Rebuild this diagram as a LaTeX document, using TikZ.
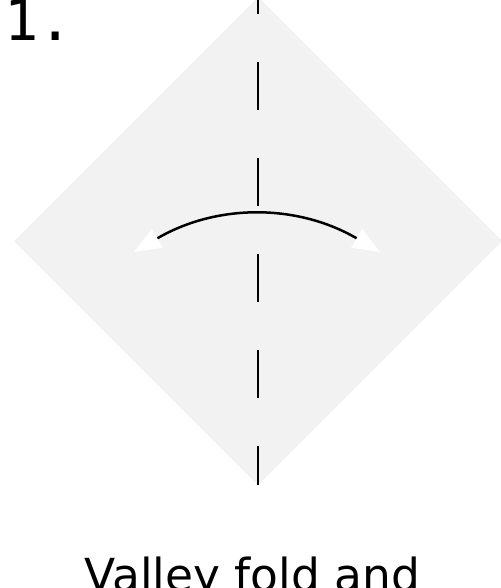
\documentclass[tikz,border=0pt]{standalone}
\usepackage{fontspec}
\setmainfont{DejaVu Sans}
\newfontfamily\monofont{DejaVu Sans Mono}
\usetikzlibrary{arrows.meta}
\tikzset{
  paper/.style={fill=black!5, draw=none},
  crease/.style={line width=2pt, dash pattern=on 48pt off 48pt, dash phase=31pt},
  flip/.style={line width=2.5pt, arrows={Triangle[length=27pt,width=21pt,color=white,fill=white]-Triangle[length=27pt,width=21pt,color=white,fill=white]}},
}
\begin{document}
\begin{tikzpicture}[x=1pt,y=-1pt]
\useasboundingbox (0,0) rectangle (500,588);
\coordinate (T) at (258,-3);
\coordinate (R) at (502,241);
\coordinate (B) at (258,485);
\coordinate (L) at (14,241);
\fill[paper] (T) -- (R) -- (B) -- (L) -- cycle;
\draw[crease] (T) -- (B);
\coordinate (a1) at (134,252);
\coordinate (a2) at (380,252);
\coordinate (c1) at (216.7,203.5);
\coordinate (c2) at (297.3,203.5);
\draw[flip] (a1) .. controls (c1) and (c2) .. (a2);
\node[anchor=base west, inner sep=0pt, font=\monofont\fontsize{57}{64}\selectfont] (num) at (4,41) {1.};
\node[anchor=base, inner sep=0pt, font=\fontsize{45.5}{54}\selectfont] (cap) at (252.5,591) {Valley fold and};
\end{tikzpicture}
\end{document}
